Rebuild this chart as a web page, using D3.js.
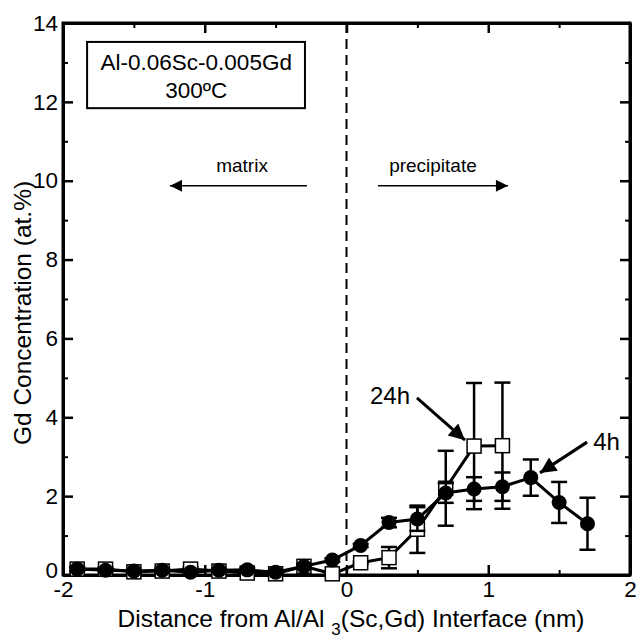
<!DOCTYPE html>
<html><head><meta charset="utf-8">
<script src="https://cdn.jsdelivr.net/npm/d3@7"></script>
<style>body{margin:0;background:#fff}svg{display:block;font-family:"Liberation Sans",Arial,Helvetica,sans-serif}</style>
</head><body>
<svg id="c" width="637" height="639"></svg>
<script>
const xPos = [-1.9,-1.7,-1.5,-1.3,-1.1,-0.9,-0.7,-0.5,-0.3,-0.1,0.1,0.3,0.5,0.7,0.9,1.1,1.3,1.5,1.7];
const conc4h = [0.15,0.12,0.1,0.12,0.07,0.12,0.13,0.07,0.22,0.38,0.75,1.33,1.42,2.08,2.18,2.24,2.47,1.84,1.3];
const err4h  = [0.05,0.03,0.03,0.04,0.04,0.04,0.04,0.03,0.06,0.04,0.04,0.12,0.3,0.25,0.3,0.36,0.46,0.52,0.66];
const xPos24 = [-1.9,-1.7,-1.5,-1.3,-1.1,-0.9,-0.7,-0.5,-0.3,-0.1,0.1,0.3,0.5,0.7,0.9,1.1];
const conc24h = [0.15,0.15,0.08,0.1,0.15,0.1,0.05,0.03,0.22,0.03,0.31,0.44,1.16,2.2,3.27,3.28];
const err24h  = [0.05,0.04,0.03,0.04,0.05,0.04,0.03,0.03,0.05,0.02,0.03,0.27,0.6,0.95,1.6,1.6];
const xMajor = [-2,-1,0,1,2];
const xMinor = [-1.5,-0.5,0.5,1.5];
const yMajor = [0,2,4,6,8,10,12,14];
const yMinor = [1,3,5,7,9,11,13];

const svg = d3.select("#c");
const x = d3.scaleLinear().domain([-2,2]).range([63,630]);
const y = d3.scaleLinear().domain([0,14]).range([575,23]);
const FS = 22.5, FT = 24.5;
const fmt = d => String(d).replace("\u2212","-");

const defs = svg.append("defs");
defs.append("marker").attr("id","ah").attr("viewBox","0 0 10 10")
  .attr("refX",10).attr("refY",5).attr("markerWidth",15).attr("markerHeight",12)
  .attr("markerUnits","userSpaceOnUse").attr("orient","auto")
  .append("path").attr("d","M0,0L10,5L0,10Z").attr("fill","#000");
defs.append("marker").attr("id","ah2").attr("viewBox","0 0 10 10")
  .attr("refX",10).attr("refY",5).attr("markerWidth",20).attr("markerHeight",16)
  .attr("markerUnits","userSpaceOnUse").attr("orient","auto")
  .append("path").attr("d","M0,0L10,5L0,10Z").attr("fill","#000");

// dashed interface line
svg.append("line").attr("x1",x(0)).attr("x2",x(0)).attr("y1",y(14)).attr("y2",y(0))
  .attr("stroke","#000").attr("stroke-width",2).attr("stroke-dasharray","10,6");

// axes (ticks inward, all four sides)
const axG = svg.append("g");
function ax(gen, tr, major, minor, labels){
  const g = axG.append("g").attr("transform",tr);
  g.call(gen.tickValues(major).tickSize(-10).tickSizeOuter(0).tickPadding(labels?5:0).tickFormat(labels?fmt:""));
  g.selectAll(".tick line").attr("stroke-width",2.5);
  const gm = axG.append("g").attr("transform",tr);
  gm.call(gen.tickValues(minor).tickSize(-5).tickFormat(""));
  gm.select(".domain").remove();
  gm.selectAll(".tick line").attr("stroke-width",2);
  g.select(".domain").attr("stroke-width",3);
  g.selectAll("text").attr("font-size",FS).attr("fill","#000").attr("font-family","inherit");
  return g;
}
ax(d3.axisBottom(x), `translate(0,${y(0)})`, xMajor, xMinor, true).selectAll("text").attr("y",22).attr("dy",0);
ax(d3.axisTop(x), `translate(0,${y(14)})`, xMajor, xMinor, false);
const yl = ax(d3.axisLeft(y), `translate(${x(-2)},0)`, yMajor, yMinor, true);
yl.selectAll(".tick text").filter(d=>d===0).attr("dy","0.1em");
ax(d3.axisRight(y), `translate(${x(2)},0)`, yMajor, yMinor, false);
// frame
svg.append("rect").attr("x",x(-2)).attr("y",y(14)).attr("width",x(2)-x(-2)).attr("height",y(0)-y(14))
  .attr("fill","none").attr("stroke","#000").attr("stroke-width",3);

function series(xs, vs, es, kind){
  const g = svg.append("g");
  const pts = xs.map((d,i)=>({x:d,v:vs[i],e:es[i]}));
  g.append("path").datum(pts).attr("fill","none").attr("stroke","#000").attr("stroke-width",3)
    .attr("d",d3.line().x(d=>x(d.x)).y(d=>y(d.v)));
  const eb = g.selectAll(".eb").data(pts).join("g");
  eb.append("line").attr("x1",d=>x(d.x)).attr("x2",d=>x(d.x)).attr("y1",d=>y(d.v-d.e)).attr("y2",d=>y(d.v+d.e))
    .attr("stroke","#000").attr("stroke-width",2.5);
  [1,-1].forEach(s=>eb.append("line").attr("x1",d=>x(d.x)-8).attr("x2",d=>x(d.x)+8)
    .attr("y1",d=>y(d.v+s*d.e)).attr("y2",d=>y(d.v+s*d.e)).attr("stroke","#000").attr("stroke-width",2.5));
  if(kind==="circle"){
    g.selectAll("circle").data(pts).join("circle").attr("cx",d=>x(d.x)).attr("cy",d=>y(d.v)).attr("r",7.5).attr("fill","#000");
  } else {
    g.selectAll("rect.m").data(pts).join("rect").attr("class","m").attr("x",d=>x(d.x)-7).attr("y",d=>y(d.v)-7)
      .attr("width",14).attr("height",14).attr("fill","#fff").attr("stroke","#000").attr("stroke-width",1.5);
  }
}
series(xPos24, conc24h, err24h, "square");
series(xPos, conc4h, err4h, "circle");

// composition box
svg.append("rect").attr("x",x(-1.83)).attr("y",y(13.52)).attr("width",x(-0.293)-x(-1.83)).attr("height",y(11.84)-y(13.52))
  .attr("fill","#fff").attr("stroke","#000").attr("stroke-width",2);
svg.append("text").attr("x",x(-1.06)).attr("y",y(12.81)).attr("text-anchor","middle").attr("font-size",FS).text("Al-0.06Sc-0.005Gd");
svg.append("text").attr("x",x(-1.06)).attr("y",y(12.1)).attr("text-anchor","middle").attr("font-size",FS).text("300ºC");

// matrix / precipitate
svg.append("text").attr("x",x(-0.737)).attr("y",y(10.22)).attr("text-anchor","middle").attr("font-size",19).text("matrix");
svg.append("line").attr("x1",x(-0.279)).attr("x2",x(-1.245)).attr("y1",y(9.87)).attr("y2",y(9.87))
  .attr("stroke","#000").attr("stroke-width",1.5).attr("marker-end","url(#ah)");
svg.append("text").attr("x",x(0.61)).attr("y",y(10.22)).attr("text-anchor","middle").attr("font-size",19).text("precipitate");
svg.append("line").attr("x1",x(0.222)).attr("x2",x(1.139)).attr("y1",y(9.87)).attr("y2",y(9.87))
  .attr("stroke","#000").attr("stroke-width",1.5).attr("marker-end","url(#ah)");

// 24h / 4h labels
svg.append("text").attr("x",x(0.448)).attr("y",y(4.34)).attr("text-anchor","end").attr("font-size",24).text("24h");
svg.append("line").attr("x1",x(0.497)).attr("y1",y(4.49)).attr("x2",x(0.836)).attr("y2",y(3.42))
  .attr("stroke","#000").attr("stroke-width",3).attr("marker-end","url(#ah2)");
svg.append("text").attr("x",x(1.74)).attr("y",y(3.17)).attr("font-size",24).text("4h");
svg.append("line").attr("x1",x(1.697)).attr("y1",y(3.37)).attr("x2",x(1.365)).attr("y2",y(2.59))
  .attr("stroke","#000").attr("stroke-width",3).attr("marker-end","url(#ah2)");

// axis titles
const xt = svg.append("text").attr("x",351).attr("y",627).attr("text-anchor","middle").attr("font-size",FT);
xt.append("tspan").text("Distance from Al/Al ");
xt.append("tspan").attr("dy",8).attr("font-size",17).text("3");
xt.append("tspan").attr("dy",-8).text("(Sc,Gd) Interface (nm)");
svg.append("text").attr("transform",`translate(31,313) rotate(-90)`).attr("text-anchor","middle")
  .attr("font-size",FT).text("Gd Concentration (at.%)");
</script>
</body></html>
